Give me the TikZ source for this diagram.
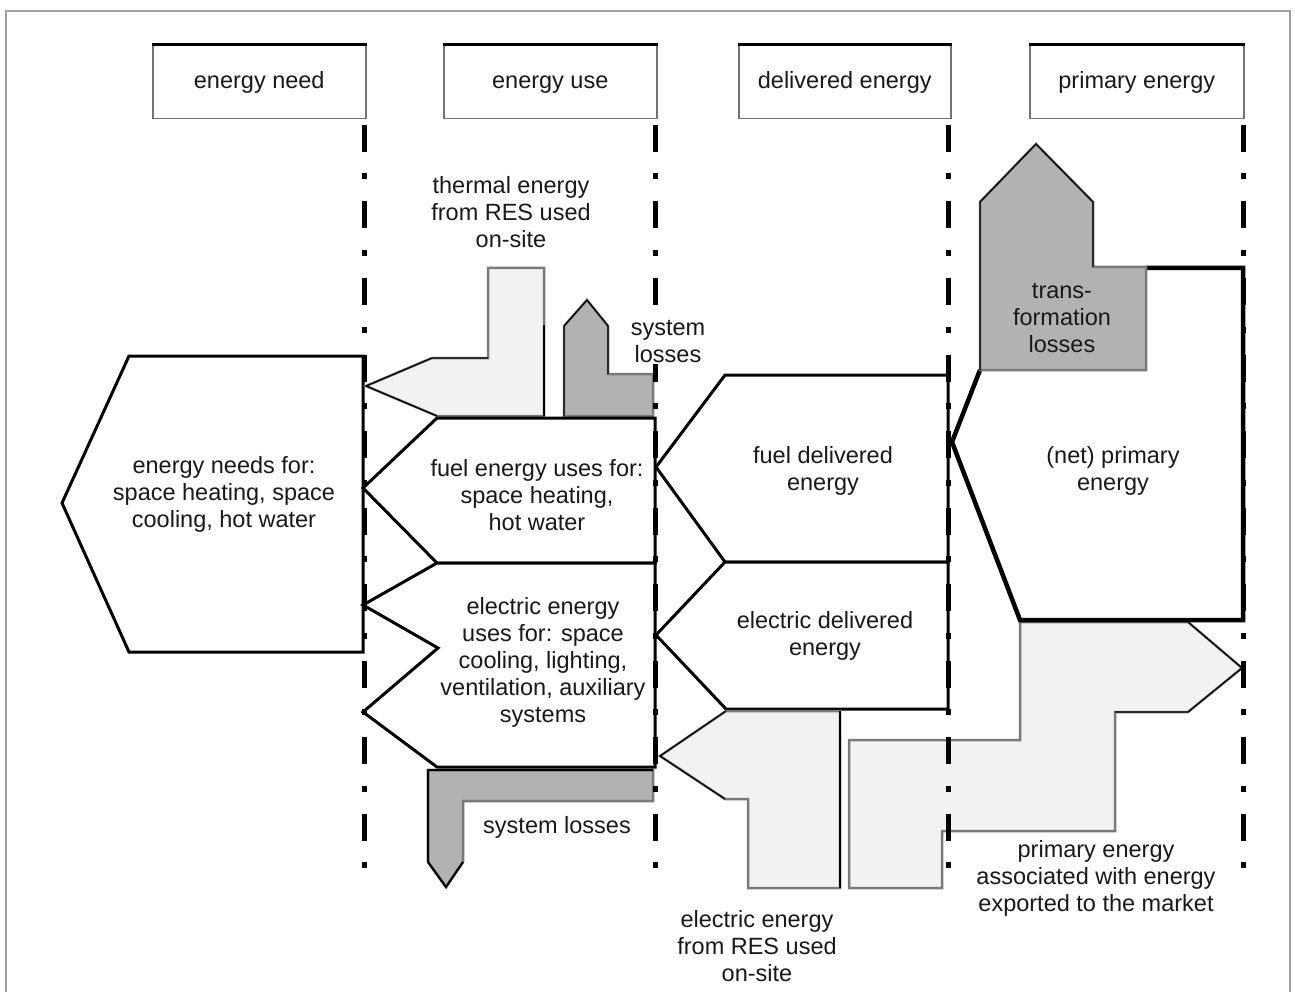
\documentclass[tikz,border=0pt]{standalone}
\usepackage{fontspec}
\setmainfont{Liberation Sans}
\definecolor{lightfill}{HTML}{F2F2F2}
\definecolor{lossfill}{HTML}{B2B2B2}
\definecolor{bordergray}{HTML}{7A7A7A}
\definecolor{framegray}{HTML}{A0A0A0}
\begin{document}
\begin{tikzpicture}[x=1pt,y=-1pt,line join=miter]
\tikzset{
  lbl/.style={font=\fontsize{23.5}{27}\selectfont, align=center, inner sep=0pt, text=black!90},
  mainshape/.style={draw=black, line width=3pt, fill=white},
  lightflow/.style={fill=lightfill, draw=bordergray, line width=2.5pt},
  lossflow/.style={fill=lossfill, draw=bordergray, line width=2.5pt},
  headbox/.style={draw=black!55, line width=1.5pt, fill=white},
  headtop/.style={draw=black, line width=3pt},
  edgeline/.style={draw=black, line width=1.3pt},
  axisline/.style={line width=5pt, dash pattern=on 27pt off 21.5pt on 6pt off 22pt, dash phase=69.5pt}
}
\useasboundingbox (0,0) rectangle (1295,992);
% frame
\draw[framegray, line width=1.5pt] (6,1000) -- (6,11) -- (1290,11) -- (1290,1000);

% header boxes
\node[headbox, minimum width=213pt, minimum height=73pt, anchor=north west] (hneed) at (152,45) {};
\node[headbox, minimum width=213pt, minimum height=73pt, anchor=north west] (huse) at (443,45) {};
\node[headbox, minimum width=212pt, minimum height=73pt, anchor=north west] (hdel) at (738,45) {};
\node[headbox, minimum width=214pt, minimum height=73pt, anchor=north west] (hprim) at (1029,45) {};
\foreach \b in {hneed,huse,hdel,hprim}{\draw[headtop] (\b.north west) -- (\b.north east);}
\node[lbl, anchor=base] (tneed) at ([yshift=-6pt]hneed.center) {energy need};
\node[lbl, anchor=base] (tuse) at ([yshift=-6pt]huse.center) {energy use};
\node[lbl, anchor=base] (tdel) at ([yshift=-6pt]hdel.center) {delivered energy};
\node[lbl, anchor=base] (tprim) at ([yshift=-6pt]hprim.center) {primary energy};

% energy need
\draw[mainshape] (129,356) -- (363,356) -- (363,652) -- (129,652) -- (62,503) -- cycle;

% thermal energy from RES
\draw[lightflow] (366,386) -- (432,358) -- (488,358) -- (488,268) -- (544,268) -- (544,416) -- (437,416) -- cycle;
\draw[edgeline] (437,416) -- (366,386) -- (432,358) -- (488,358);
\draw[edgeline] (544,325) -- (544,416);

% system losses (top)
\draw[lossflow] (564,416) -- (564,326) -- (587,300) -- (608,326) -- (608,374) -- (653,374) -- (653,416) -- cycle;
\draw[edgeline] (564,416) -- (564,326) -- (587,300) -- (608,326) -- (608,374);

% energy use shapes
\draw[mainshape] (437,418) -- (655,418) -- (655,563) -- (437,563) -- (363,488) -- cycle;
\draw[mainshape] (437,563) -- (655,563) -- (655,767) -- (437,767) -- (363,712) -- (438,648) -- (363,605) -- cycle;

% system losses (bottom)
\draw[lossflow] (428,770) -- (653,770) -- (653,801) -- (463,801) -- (463,862) -- (446,887) -- (428,862) -- cycle;
\draw[black, line width=2.2pt] (653,770) -- (428,770) -- (428,862) -- (446,887) -- (463,862);

% delivered energy shapes
\draw[mainshape] (725,375) -- (948,375) -- (948,562) -- (725,562) -- (656,467) -- cycle;
\draw[mainshape] (725,562) -- (948,562) -- (948,709) -- (726,709) -- (656,635) -- cycle;

% electric energy from RES used on-site
\draw[lightflow] (726,711) -- (840,711) -- (840,888) -- (748,888) -- (748,799) -- (725,799) -- (660,756) -- cycle;
\draw[edgeline] (726,711) -- (660,756) -- (725,799);
\draw[edgeline] (840,711) -- (840,888);

% exported energy
\draw[lightflow] (1020,622) -- (1188,622) -- (1242,668) -- (1188,712) -- (1115,712) -- (1115,831) -- (942,831) -- (942,888) -- (849,888) -- (849,740) -- (1020,740) -- cycle;
\draw[edgeline] (1188,622) -- (1242,668) -- (1188,712) -- (1115,712);

% net primary energy
\draw[mainshape, line width=4.5pt] (1146,268) -- (1243,268) -- (1243,620) -- (1020,620) -- (952,442) -- (980,370);

% transformation losses
\draw[lossflow] (980,370) -- (980,202) -- (1036,144) -- (1093,202) -- (1093,267) -- (1146,267) -- (1146,370) -- cycle;
\draw[edgeline] (980,370) -- (980,202) -- (1036,144) -- (1093,202) -- (1093,267);

% dash-dot axis lines
\foreach \x in {364,655,948,1243}{\draw[axisline] (\x,118) -- (\x,868);}

% labels
\node[lbl] (lthermal) at (511,212) {thermal energy\\from RES used\\on-site};
\node[lbl, fill=white, inner sep=1pt] (lsys1) at (668,342) {system\\losses};
\node[lbl] (lneed) at (224,494) {energy needs for:\\space heating, space\\cooling, hot water};
\node[lbl] (lfuse) at (537,495) {fuel energy uses for:\\space heating,\\hot water};
\node[lbl] (leuse) at (543,662) {electric energy\\uses for: space\\cooling, lighting,\\ventilation, auxiliary\\systems};
\node[lbl] (lsys2) at (557,827) {system losses};
\node[lbl] (lfdel) at (823,471) {fuel delivered\\energy};
\node[lbl] (ledel) at (825,636) {electric delivered\\energy};
\node[lbl] (lnet) at (1113,471) {(net) primary\\energy};
\node[lbl] (ltrans) at (1062,318) {trans-\\formation\\losses};
\node[lbl] (lres) at (757,946) {electric energy\\from RES used\\on-site};
\node[lbl] (lexp) at (1096,878) {primary energy\\associated with energy\\exported to the market};
\end{tikzpicture}
\end{document}
